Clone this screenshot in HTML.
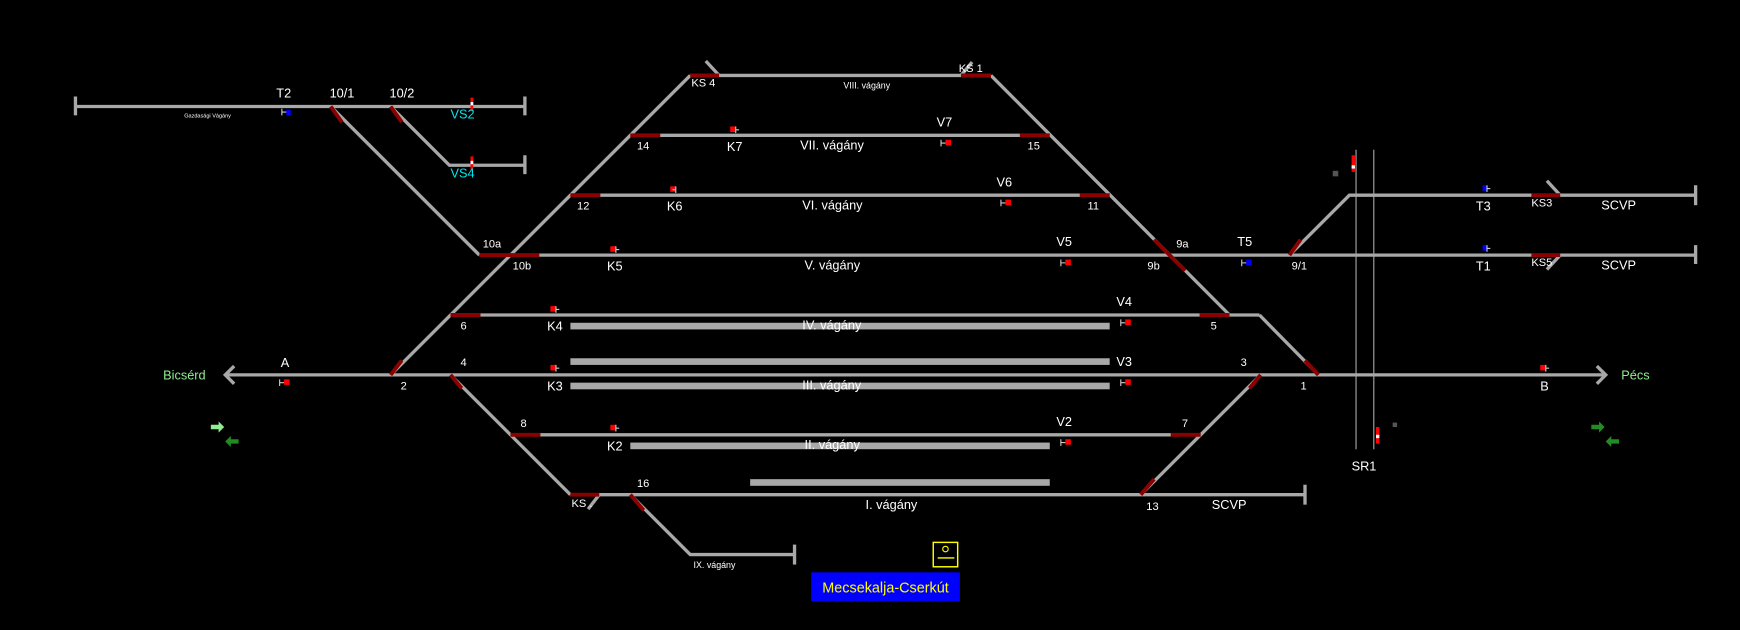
<!DOCTYPE html>
<html><head><meta charset="utf-8"><style>
html,body{margin:0;padding:0;background:#000;}
svg{display:block}
text{font-family:"Liberation Sans",sans-serif;fill:#fff;font-size:11.5px}
</style></head><body>
<svg width="1740" height="630" viewBox="0 0 1568 568" preserveAspectRatio="none" xmlns="http://www.w3.org/2000/svg">
<rect width="1568" height="568" fill="#000"/>
<g stroke="#a8a8a8" stroke-width="3" fill="none">
<!-- top left -->
<line x1="68" y1="96" x2="473" y2="96"/>
<line x1="68" y1="87" x2="68" y2="104"/>
<line x1="473" y1="87" x2="473" y2="104"/>
<polyline points="352,96 405,149 473,149"/>
<line x1="473" y1="140" x2="473" y2="157"/>
<polyline points="298,96 432,230"/>
<!-- main -->
<line x1="203" y1="338" x2="1447" y2="338"/>
<polyline points="211,330 203,338 211,346"/>
<polyline points="1439,330 1447,338 1439,346"/>
<!-- left big diagonal -->
<line x1="352" y1="338" x2="622" y2="68"/>
<line x1="622" y1="68" x2="893" y2="68"/>
<line x1="636" y1="55" x2="648" y2="68"/>
<line x1="866" y1="68" x2="876" y2="56"/>
<line x1="893" y1="68" x2="1108" y2="284"/>
<line x1="568" y1="122" x2="946" y2="122"/>
<line x1="514" y1="176" x2="1000" y2="176"/>
<line x1="432" y1="230" x2="1528" y2="230"/>
<line x1="1528" y1="221" x2="1528" y2="238"/>
<line x1="406" y1="284" x2="1135" y2="284"/>
<line x1="1135" y1="284" x2="1188" y2="338"/>
<!-- lower -->
<line x1="406" y1="338" x2="514" y2="446"/>
<line x1="514" y1="446" x2="1176" y2="446"/>
<line x1="1176" y1="437" x2="1176" y2="455"/>
<line x1="460" y1="392" x2="1082" y2="392"/>
<line x1="1028" y1="446" x2="1136" y2="338"/>
<line x1="540" y1="446" x2="530" y2="459"/>
<polyline points="568,446 622,500 716,500"/>
<line x1="716" y1="491" x2="716" y2="509"/>
<!-- right -->
<polyline points="1162,230 1216,176 1528,176"/>
<line x1="1528" y1="167" x2="1528" y2="185"/>
<line x1="1394" y1="163" x2="1406" y2="176"/>
<line x1="1406" y1="230" x2="1394" y2="243"/>
</g>
<!-- verticals -->
<g stroke="#a8a8a8" stroke-width="1">
<line x1="1222" y1="135" x2="1222" y2="405"/>
<line x1="1238" y1="135" x2="1238" y2="405"/>
</g>
<!-- platforms -->
<g fill="#a8a8a8">
<rect x="514" y="291" width="486" height="6"/>
<rect x="514" y="323" width="486" height="6"/>
<rect x="514" y="345" width="486" height="6"/>
<rect x="568" y="399" width="378" height="6"/>
<rect x="676" y="432" width="270" height="6"/>
</g>
<!-- red switch segments -->
<g stroke="#8b0000" stroke-width="3.5">
<line x1="298" y1="96" x2="308" y2="110"/>
<line x1="352" y1="96" x2="362" y2="110"/>
<line x1="622" y1="68" x2="648" y2="68"/>
<line x1="866" y1="68" x2="893" y2="68"/>
<line x1="568" y1="122" x2="595" y2="122"/>
<line x1="919" y1="122" x2="946" y2="122"/>
<line x1="514" y1="176" x2="541" y2="176"/>
<line x1="973" y1="176" x2="1000" y2="176"/>
<line x1="432" y1="230" x2="486" y2="230"/>
<line x1="1040" y1="216" x2="1068" y2="244"/>
<line x1="1162" y1="230" x2="1172" y2="216"/>
<line x1="406" y1="284" x2="433" y2="284"/>
<line x1="1081" y1="284" x2="1108" y2="284"/>
<line x1="1176" y1="325" x2="1188" y2="338"/>
<line x1="352" y1="338" x2="362" y2="325"/>
<line x1="406" y1="338" x2="416" y2="350"/>
<line x1="1126" y1="350" x2="1136" y2="338"/>
<line x1="460" y1="392" x2="487" y2="392"/>
<line x1="1055" y1="392" x2="1082" y2="392"/>
<line x1="514" y1="446" x2="540" y2="446"/>
<line x1="568" y1="446" x2="580" y2="460"/>
<line x1="1028" y1="446" x2="1040" y2="432"/>
<line x1="1380" y1="176" x2="1406" y2="176"/>
<line x1="1380" y1="230" x2="1406" y2="230"/>
</g>
<!-- signals -->
<g fill="#ff0000">
<rect x="658" y="114" width="5" height="5"/><rect x="604" y="168" width="5" height="5"/><rect x="550" y="222" width="5" height="5"/>
<rect x="496" y="276" width="5" height="5"/><rect x="496" y="329" width="5" height="5"/><rect x="550" y="383" width="5" height="5"/>
<rect x="852" y="126" width="5" height="5"/><rect x="906" y="180" width="5" height="5"/><rect x="960" y="234" width="5" height="5"/>
<rect x="1014" y="288" width="5" height="5"/><rect x="1014" y="342" width="5" height="5"/><rect x="960" y="396" width="5" height="5"/>
<rect x="256" y="342" width="5" height="5"/><rect x="1388" y="329" width="5" height="5"/>
<rect x="424" y="88" width="2.5" height="12"/><rect x="424" y="141" width="2.5" height="12"/>
<rect x="1218" y="140" width="3" height="15"/><rect x="1240" y="385" width="3" height="15"/>
</g>
<g fill="#fff"><rect x="424" y="92" width="2.5" height="3"/><rect x="424" y="145" width="2.5" height="3"/><rect x="1218" y="149" width="3" height="3"/><rect x="1240" y="392" width="3" height="3"/></g>
<g fill="#0000ff">
<rect x="258" y="99" width="4" height="5"/><rect x="1123" y="234" width="5" height="5"/>
<rect x="1336" y="167" width="4" height="5"/><rect x="1336" y="221" width="4" height="5"/>
</g>
<g fill="#555"><rect x="1201" y="154" width="5" height="5"/><rect x="1255" y="381" width="4" height="4"/></g>
<g stroke="#ccc" stroke-width="1">
<path d="M663,114v6M663,117h3M902,180v6M902,183h4M956,234v6M956,237h4M1010,288v6M1010,291h4M1010,342v6M1010,345h4M956,396v6M956,399h4M609,168v6M606,171h3M555,222v6M555,225h3M501,276v6M501,279h3M501,329v6M501,332h3M555,383v6M555,386h3M848,126v6M848,129h4M252,342v6M252,345h4M1393,329v6M1393,332h3M254,98v6M254,101h4M1119,234v6M1119,237h4M1340,167v6M1340,170h3M1340,221v6M1340,224h3"/>
</g>
<!-- direction arrows -->
<path d="M190,383h7v-3l5,5-5,5v-3h-7z" fill="#90ee90"/>
<path d="M215,396h-7v-3l-5,5 5,5v-3h7z" fill="#228b22"/>
<path d="M1434,383h7v-3l5,5-5,5v-3h-7z" fill="#228b22"/>
<path d="M1459,396h-7v-3l-5,5 5,5v-3h7z" fill="#228b22"/>
<!-- station box -->
<rect x="841" y="489" width="22" height="22" fill="none" stroke="#ffff00" stroke-width="1.3"/>
<circle cx="852" cy="495" r="2.5" fill="none" stroke="#ffff00" stroke-width="1"/>
<line x1="845" y1="503" x2="860" y2="503" stroke="#ffff00" stroke-width="1.2"/>
<rect x="731" y="516" width="134" height="26" fill="#0000ff"/>
<text x="798" y="534" text-anchor="middle" style="fill:#ffff00;font-size:13px">Mecsekalja-Cserkút</text>
<!-- labels -->
<text x="249" y="88">T2</text><text x="297" y="88">10/1</text><text x="351" y="88">10/2</text>
<text x="166" y="106" style="font-size:5px">Gazdasági Vágány</text>
<text x="406" y="107" style="fill:#00e5ee">VS2</text><text x="406" y="160" style="fill:#00e5ee">VS4</text>
<text x="623" y="78" style="font-size:10px">KS  4</text><text x="864" y="65" style="font-size:10px">KS  1</text>
<text x="760" y="80" style="font-size:8px">VIII. vágány</text>
<text x="574" y="135" style="font-size:10px">14</text><text x="655" y="136">K7</text><text x="721" y="135">VII. vágány</text><text x="844" y="114">V7</text><text x="926" y="135" style="font-size:10px">15</text>
<text x="520" y="189" style="font-size:10px">12</text><text x="601" y="190">K6</text><text x="723" y="189">VI. vágány</text><text x="898" y="168">V6</text><text x="980" y="189" style="font-size:10px">11</text>
<text x="435" y="223" style="font-size:10px">10a</text><text x="462" y="243" style="font-size:10px">10b</text><text x="547" y="244">K5</text><text x="725" y="243">V. vágány</text><text x="952" y="222">V5</text>
<text x="1060" y="223" style="font-size:10px">9a</text><text x="1034" y="243" style="font-size:10px">9b</text><text x="1115" y="222">T5</text><text x="1164" y="243" style="font-size:10px">9/1</text>
<text x="1330" y="190">T3</text><text x="1380" y="186" style="font-size:10px">KS3</text><text x="1443" y="189">SCVP</text>
<text x="1330" y="244">T1</text><text x="1380" y="240" style="font-size:10px">KS5</text><text x="1443" y="243">SCVP</text>
<text x="415" y="297" style="font-size:10px">6</text><text x="493" y="298">K4</text><text x="723" y="297">IV. vágány</text><text x="1006" y="276">V4</text><text x="1091" y="297" style="font-size:10px">5</text>
<text x="147" y="342" style="fill:#90ee90">Bicsérd</text><text x="253" y="331">A</text><text x="361" y="351" style="font-size:10px">2</text><text x="415" y="330" style="font-size:10px">4</text>
<text x="493" y="352">K3</text><text x="723" y="351">III. vágány</text><text x="1006" y="330">V3</text><text x="1118" y="330" style="font-size:10px">3</text><text x="1172" y="351" style="font-size:10px">1</text>
<text x="1388" y="352">B</text><text x="1461" y="342" style="fill:#90ee90">Pécs</text>
<text x="469" y="385" style="font-size:10px">8</text><text x="547" y="406">K2</text><text x="725" y="405">II. vágány</text><text x="952" y="384">V2</text><text x="1065" y="385" style="font-size:10px">7</text>
<text x="1218" y="424">SR1</text>
<text x="515" y="457" style="font-size:10px">KS .</text><text x="574" y="439" style="font-size:10px">16</text><text x="780" y="459">I. vágány</text><text x="1033" y="460" style="font-size:10px">13</text><text x="1092" y="459">SCVP</text>
<text x="625" y="512" style="font-size:8px">IX. vágány</text>
</svg>
</body></html>
